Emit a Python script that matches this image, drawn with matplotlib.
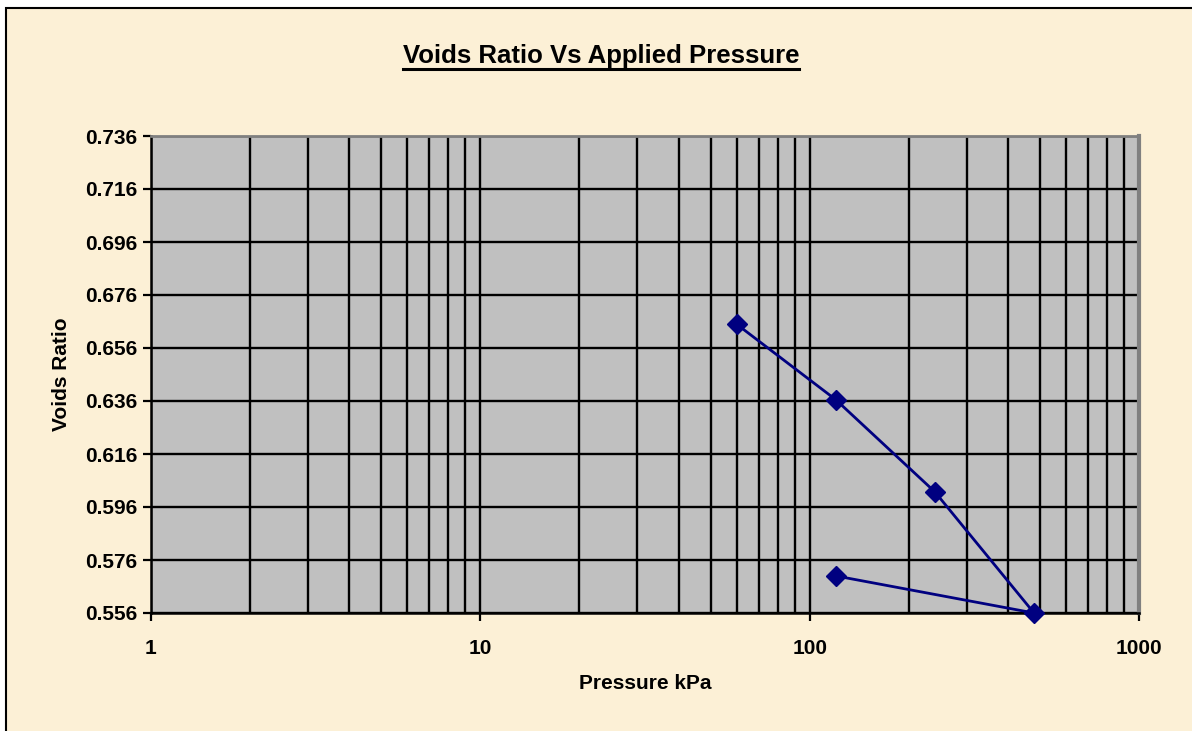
import numpy as np
import matplotlib.pyplot as plt
from matplotlib.ticker import LogLocator, FixedLocator, NullFormatter, FixedFormatter
from matplotlib.patches import Rectangle
from matplotlib.lines import Line2D

# readings from the consolidation test
pressure = [60, 120, 240, 480, 120]
voids = [0.665, 0.6365, 0.6017, 0.556, 0.570]

y_ticks = [0.556, 0.576, 0.596, 0.616, 0.636, 0.656, 0.676, 0.696, 0.716, 0.736]
x_ticks = [1, 10, 100, 1000]
x_labels = ["1", "10", "100", "1000"]

plt.rcParams['font.family'] = ['Liberation Sans', 'DejaVu Sans']
plt.rcParams['font.weight'] = 'bold'

bg = '#FCF0D6'
fig = plt.figure(figsize=(11.92, 7.31), dpi=100, facecolor='white')

# chart area frame
fig.patches.append(Rectangle((6 / 1192, -0.01), 1.05, (731 - 8) / 731 + 0.01,
                             transform=fig.transFigure, facecolor=bg,
                             edgecolor='black', linewidth=1.5, zorder=-10))

ax = fig.add_axes([151 / 1192, 1 - 613 / 731, (1139 - 151) / 1192, (613 - 136) / 731])
ax.set_facecolor('#C0C0C0')

ax.plot(pressure, voids, color='#000080', linewidth=2, marker='D',
        markersize=10, zorder=5, clip_on=False)

ax.set_xscale('log')
ax.set_xlim(1, 1000)
ax.set_ylim(0.556, 0.736)

ax.xaxis.set_major_locator(FixedLocator(x_ticks))
ax.xaxis.set_major_formatter(FixedFormatter(x_labels))
ax.xaxis.set_minor_locator(LogLocator(base=10, subs=np.arange(2, 10)))
ax.xaxis.set_minor_formatter(NullFormatter())
ax.set_yticks(y_ticks)
ax.set_yticklabels([f"{v:.3f}" for v in y_ticks])

ax.grid(True, which='both', axis='x', color='black', linewidth=1.7)
ax.grid(True, which='major', axis='y', color='black', linewidth=1.7)
ax.set_axisbelow(True)

ax.tick_params(axis='both', which='major', length=6, width=1.6, color='black',
               labelsize=15, direction='out')
ax.tick_params(axis='x', which='major', pad=13)
ax.tick_params(axis='y', which='major', pad=4)
ax.tick_params(axis='x', which='minor', length=0)

for s in ['left', 'bottom']:
    ax.spines[s].set_color('black')
    ax.spines[s].set_linewidth(1.8)
ax.spines['top'].set_color('#808080')
ax.spines['top'].set_linewidth(2)
ax.spines['right'].set_color('#808080')
ax.spines['right'].set_linewidth(3)

ax.set_xlabel('Pressure kPa', fontsize=15, fontweight='bold', labelpad=11)
ax.set_ylabel('Voids Ratio', fontsize=15, fontweight='bold', labelpad=10)

title = fig.text(601 / 1192, 1 - 56 / 731, 'Voids Ratio Vs Applied Pressure',
                 ha='center', va='center', fontsize=18.5, fontweight='bold')

# underline the title
fig.canvas.draw()
bb = title.get_window_extent().transformed(fig.transFigure.inverted())
uy = bb.y0 - 1 / 731
fig.lines.append(Line2D([bb.x0, bb.x1], [uy, uy], transform=fig.transFigure,
                        color='black', linewidth=2.2))

fig.savefig('out.png', dpi=100, facecolor='white')
